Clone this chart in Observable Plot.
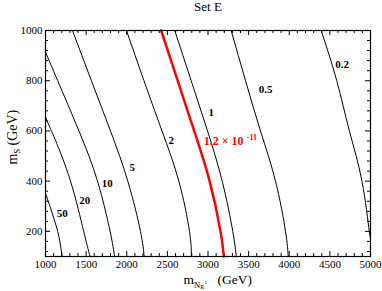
<!DOCTYPE html>
<html><head><meta charset="utf-8">
<script src="https://cdn.jsdelivr.net/npm/d3@7"></script>
<script src="https://cdn.jsdelivr.net/npm/@observablehq/plot@0.6"></script>
<style>body{margin:0;background:#fff;}</style>
</head><body><div id="chart"></div>
<script>
// ---- data ----
const titleText = "Set E";
const xTicks = [1000, 1500, 2000, 2500, 3000, 3500, 4000, 4500, 5000];
const yTicks = [200, 400, 600, 800, 1000];
const xMinor = d3.range(1000, 5001, 100).filter(v => v % 500 !== 0);
const yMinor = d3.range(120, 1000, 40).filter(v => v % 200 !== 0);

const c50X = [1000, 1055, 1105, 1150, 1182, 1205];
const c50Y = [351, 300, 250, 200, 150, 100];
const c20X = [1000, 1073, 1124, 1308, 1470, 1548];
const c20Y = [655, 600, 562, 400, 200, 100];
const c10X = [1000, 1150, 1412, 1640, 1795, 1850];
const c10Y = [914, 800, 600, 400, 200, 100];
const c5X = [1332, 1565, 1800, 2013, 2169, 2214];
const c5Y = [1000, 800, 600, 400, 200, 100];
const c2X = [1997, 2212, 2434, 2641, 2772, 2795];
const c2Y = [1000, 800, 600, 400, 200, 100];
const redX = [2424, 2627, 2830, 3020, 3154, 3195];
const redY = [1000, 800, 600, 400, 200, 100];
const c1X = [2591, 2793, 2994, 3175, 3305, 3347];
const c1Y = [1000, 800, 600, 400, 200, 100];
const c05X = [3285, 3462, 3646, 3831, 3954, 3987];
const c05Y = [1000, 800, 600, 400, 200, 100];
const c02X = [4393, 4585, 4740, 4895, 4985, 5000];
const c02Y = [1000, 800, 600, 400, 200, 190];

const labelText = ["50", "20", "10", "5", "2", "1", "0.5", "0.2"];
const labelX = [1205, 1484, 1759, 2067, 2547, 3039, 3708, 4652];
const labelY = [272, 323, 392, 453, 562, 675, 764, 863];
const redLabelText = "1.2 × 10";
const redLabelExp = "-11";
const redLabelX = 2948, redLabelY = 545;

// ---- build ----
const blackCurves = [
  ["50", c50X, c50Y], ["20", c20X, c20Y], ["10", c10X, c10Y], ["5", c5X, c5Y],
  ["2", c2X, c2Y], ["1", c1X, c1Y], ["0.5", c05X, c05Y], ["0.2", c02X, c02Y]
].flatMap(([name, xs, ys]) => xs.map((x, i) => ({name, x, y: ys[i]})));
const redCurve = redX.map((x, i) => ({x, y: redY[i]}));
const labels = labelText.map((t, i) => ({t, x: labelX[i], y: labelY[i]}));

const W = 382, H = 291, mL = 45, mR = 12, mT = 30, mB = 35;
const innerW = W - mL - mR, innerH = H - mT - mB;
const font = "Liberation Serif";

const plot = Plot.plot({
  width: W, height: H,
  marginLeft: mL, marginRight: mR, marginTop: mT, marginBottom: mB,
  style: {fontFamily: font, fontSize: "11px", background: "#fff", color: "#000"},
  x: {domain: [1000, 5000]},
  y: {domain: [100, 1000]},
  marks: [
    Plot.axisX(xTicks, {tickSize: 0, tickPadding: 4, tickFormat: d => String(d), label: null, fontSize: 11}),
    Plot.axisY(yTicks, {tickSize: 0, tickPadding: 3, tickFormat: d => String(d), label: null, fontSize: 11}),
    // inward ticks on all four sides
    Plot.ruleX(xTicks, {x: d => d, insetTop: innerH - 5, stroke: "#000"}),
    Plot.ruleX(xTicks, {x: d => d, insetBottom: innerH - 5, stroke: "#000"}),
    Plot.ruleX(xMinor, {x: d => d, insetTop: innerH - 3, stroke: "#000"}),
    Plot.ruleX(xMinor, {x: d => d, insetBottom: innerH - 3, stroke: "#000"}),
    Plot.ruleY(yTicks, {y: d => d, insetRight: innerW - 5, stroke: "#000"}),
    Plot.ruleY(yTicks, {y: d => d, insetLeft: innerW - 5, stroke: "#000"}),
    Plot.ruleY(yMinor, {y: d => d, insetRight: innerW - 3, stroke: "#000"}),
    Plot.ruleY(yMinor, {y: d => d, insetLeft: innerW - 3, stroke: "#000"}),
    Plot.line(blackCurves, {x: "x", y: "y", z: "name", stroke: "#000", strokeWidth: 1, curve: "natural"}),
    Plot.line(redCurve, {x: "x", y: "y", stroke: "#ff0000", strokeWidth: 2.5, curve: "natural"}),
    Plot.text(labels, {x: "x", y: "y", text: "t", fontWeight: "bold", fontSize: 11, fill: "#000"}),
    Plot.text([redLabelText], {x: () => redLabelX, y: () => redLabelY, text: d => d, textAnchor: "start", lineAnchor: "bottom", fontWeight: "bold", fontSize: 12, fill: "#ff0000"}),
    Plot.text([redLabelExp], {x: () => redLabelX, y: () => redLabelY, text: d => d, textAnchor: "start", lineAnchor: "bottom", dx: 43, dy: -4.5, fontWeight: "bold", fontSize: 8, fill: "#ff0000"}),
    Plot.frame({stroke: "#000", strokeWidth: 1.2}),
    // title
    Plot.text([titleText], {frameAnchor: "top", dy: -20, lineAnchor: "bottom", text: d => d, fontSize: 13}),
    // x label  m_{N_R} (GeV)
    Plot.text(["m"], {frameAnchor: "bottom", text: d => d, textAnchor: "start", lineAnchor: "bottom", dx: -24.5, dy: 27, fontSize: 13.5}),
    Plot.text(["N"], {frameAnchor: "bottom", text: d => d, textAnchor: "start", lineAnchor: "bottom", dx: -14, dy: 31, fontSize: 8.5}),
    Plot.text(["R"], {frameAnchor: "bottom", text: d => d, textAnchor: "start", lineAnchor: "bottom", dx: -7.8, dy: 32.5, fontSize: 6}),
    Plot.text(["ı"], {frameAnchor: "bottom", text: d => d, textAnchor: "start", lineAnchor: "bottom", dx: -3, dy: 27, fontSize: 6}),
    Plot.text(["(GeV)"], {frameAnchor: "bottom", text: d => d, textAnchor: "start", lineAnchor: "bottom", dx: 9.5, dy: 27, fontSize: 13.5}),
    // y label  m_S (GeV)
    Plot.text(["m"], {frameAnchor: "left", text: d => d, rotate: -90, textAnchor: "start", lineAnchor: "bottom", dx: -28.5, dy: 21, fontSize: 14}),
    Plot.text(["S"], {frameAnchor: "left", text: d => d, rotate: -90, textAnchor: "start", lineAnchor: "bottom", dx: -26, dy: 10, fontSize: 8.5}),
    Plot.text(["(GeV)"], {frameAnchor: "left", text: d => d, rotate: -90, textAnchor: "start", lineAnchor: "bottom", dx: -28.5, dy: 2, fontSize: 14})
  ]
});
document.getElementById("chart").appendChild(plot);
</script>
</body></html>
